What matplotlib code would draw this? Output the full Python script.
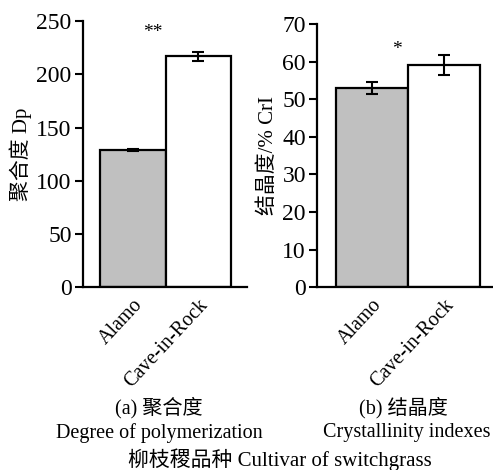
import matplotlib
matplotlib.use("Agg")
import matplotlib.pyplot as plt

#fuentes: serif latina + CJK
FONT = ["Liberation Serif", "Noto Sans CJK SC"]
plt.rcParams["font.family"] = FONT
plt.rcParams["font.size"] = 14

#datos
cultivars = ["Alamo", "Cave-in-Rock"]
dp_mean = [129, 217]
dp_err = [1, 4]
cri_mean = [53, 59]
cri_err = [1.5, 2.7]
bar_colors = ["#c0c0c0", "white"]

fig = plt.figure(figsize=(4.93, 4.70), dpi=100)

def draw_panel(rect, means, errs, ylim, yticks, ylabel, xlim, star, star_xy):
    ax = fig.add_axes(rect)
    x = range(len(means))
    ax.bar(x, means, width=1.0, color=bar_colors, edgecolor="black", linewidth=1.6,
           yerr=errs, capsize=4, error_kw=dict(elinewidth=1.5, capthick=1.5))
    ax.set_xlim(*xlim)
    ax.set_ylim(*ylim)
    ax.set_yticks(yticks)
    ax.set_xticks(list(x))
    ax.set_xticklabels(cultivars, rotation=47, ha="right", va="top", rotation_mode="anchor",
                       fontsize=14.5)
    ax.tick_params(axis="x", length=0, pad=6)
    ax.tick_params(axis="y", direction="out", length=6, width=1.5, pad=2, labelsize=17)
    for s in ["top", "right"]:
        ax.spines[s].set_visible(False)
    for s in ["left", "bottom"]:
        ax.spines[s].set_linewidth(1.6)
    ax.set_ylabel(ylabel, labelpad=3, fontsize=15)
    ax.text(star_xy[0], star_xy[1], star, ha="center", va="center", fontsize=14)
    return ax

draw_panel([0.168, 0.389, 0.333, 0.566], dp_mean, dp_err, (0, 250), range(0, 251, 50),
           "聚合度 Dp", (-0.76, 1.74), "**", (0.3, 239))
draw_panel([0.643, 0.389, 0.357, 0.560], cri_mean, cri_err, (0, 70), range(0, 71, 10),
           "结晶度/% CrI", (-0.76, 1.68), "*", (0.35, 63.3))

#títulos de los paneles
fig.text(0.322, 1 - 408 / 470, "(a) 聚合度", ha="center", va="center", fontsize=14.5)
fig.text(0.324, 1 - 433 / 470, "Degree of polymerization", ha="center", va="center", fontsize=14.5)
fig.text(0.818, 1 - 408 / 470, "(b) 结晶度", ha="center", va="center", fontsize=14.5)
fig.text(0.826, 1 - 433 / 470, "Crystallinity indexes", ha="center", va="center", fontsize=14.5)
fig.text(0.567, 1 - 460 / 470, "柳枝稷品种 Cultivar of switchgrass", ha="center", va="center",
         fontsize=15)

fig.savefig("out.png", dpi=100)
